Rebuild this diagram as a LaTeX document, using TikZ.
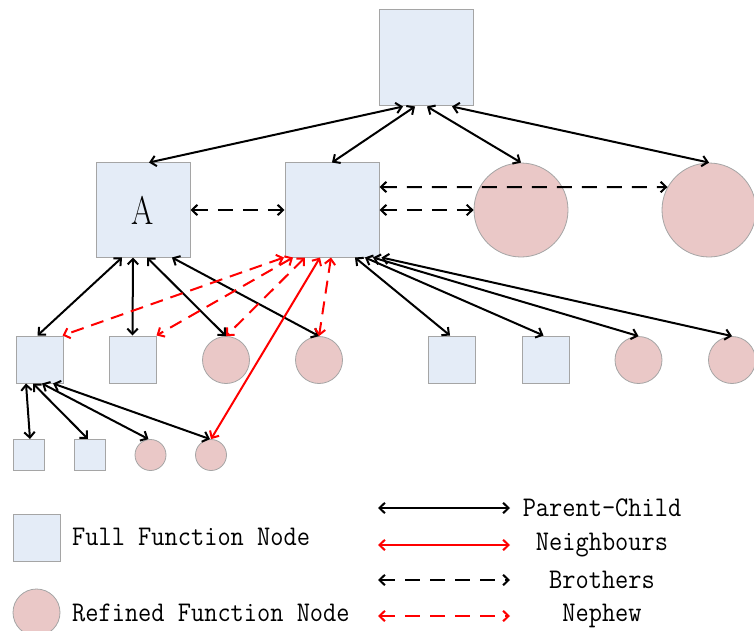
\documentclass[tikz,border=0pt]{standalone}
\usepackage{fontspec}
\newfontfamily\lblfont[FakeStretch=0.9]{Latin Modern Mono}
\newfontfamily\bigfont[FakeStretch=0.8]{Latin Modern Roman}
\usetikzlibrary{arrows.meta}
\definecolor{boxfill}{RGB}{228,236,247}
\definecolor{circfill}{RGB}{234,200,199}
\definecolor{edgegray}{RGB}{165,165,165}
\begin{document}
\begin{tikzpicture}[x=1pt,y=-1pt,
  fullnode/.style={draw=edgegray,fill=boxfill,line width=1pt,inner sep=0pt,minimum size=#1},
  refnode/.style={circle,draw=edgegray,fill=circfill,line width=0.8pt,inner sep=0pt,minimum size=#1},
  tip/.style={{Straight Barb[length=5.5pt,width=10.5pt]}-{Straight Barb[length=5.5pt,width=10.5pt]}},
  parentchild/.style={tip,line width=2pt,black},
  neighbour/.style={tip,line width=2pt,red},
  brother/.style={tip,line width=2pt,black,dash pattern=on 15pt off 10pt},
  nephew/.style={tip,line width=2pt,red,dash pattern=on 13pt off 8pt},
  lbl/.style={inner sep=0pt,font=\lblfont\fontsize{28.5}{29}\selectfont}
]
\useasboundingbox (0,0) rectangle (754,631);
% tree nodes
\node[fullnode=94pt,minimum height=96pt] (T) at (426,58) {};
\node[fullnode=94pt,font=\bigfont\fontsize{40}{40}\selectfont] (A) at (143,210) {A};
\node[fullnode=94pt] (B) at (332,210) {};
\node[refnode=94pt] (C) at (521,210) {};
\node[refnode=94pt] (D) at (709,210) {};
\node[fullnode=47pt] (s1) at (39.5,359.5) {};
\node[fullnode=47pt] (s2) at (132.5,359.5) {};
\node[refnode=47pt] (c1) at (226,360) {};
\node[refnode=47pt] (c2) at (319,360) {};
\node[fullnode=47pt] (s3) at (452,359.5) {};
\node[fullnode=47pt] (s4) at (545.5,359.5) {};
\node[refnode=47pt] (c3) at (638.5,360) {};
\node[refnode=47pt] (c4) at (732,360) {};
\node[fullnode=31pt] (s5) at (28.5,455) {};
\node[fullnode=31pt] (s6) at (89.5,455) {};
\node[refnode=31pt] (c5) at (150.5,455) {};
\node[refnode=31pt] (c6) at (211,455) {};
% top level
\draw[parentchild] ([xshift=-23pt]T.south) -- ([xshift=6pt]A.north);
\draw[parentchild] ([xshift=-11pt]T.south) -- (B.north);
\draw[parentchild] ([xshift=1pt]T.south) -- (C.north);
\draw[parentchild] ([xshift=26pt]T.south) -- (D.north);
% brothers
\draw[brother] (A.east) -- (B.west);
\draw[brother] ([yshift=23pt]B.east) -- (D.151);
\draw[brother] (B.east) -- (C.west);
% A children
\draw[parentchild] ([xshift=-21pt]A.south) -- ([xshift=-2pt]s1.north);
\draw[parentchild] ([xshift=-10pt]A.south) -- (s2.north);
\draw[parentchild] ([xshift=4pt]A.south) -- (c1.north);
\draw[parentchild] ([xshift=29pt]A.south) -- (c2.north);
% B children
\draw[parentchild] ([xshift=23pt]B.south) -- ([xshift=-2pt]s3.north);
\draw[parentchild] ([xshift=33pt]B.south) -- ([xshift=-2pt]s4.north);
\draw[parentchild] ([xshift=41pt]B.south) -- (c3.north);
\draw[parentchild] ([xshift=2pt]B.south east) -- (c4.north);
% s1 children
\draw[parentchild] ([xshift=-13.5pt]s1.south) -- ([xshift=1.5pt]s5.north);
\draw[parentchild] ([xshift=-6.5pt]s1.south) -- ([xshift=-1.5pt]s6.north);
\draw[parentchild] ([xshift=2.5pt]s1.south) -- ([xshift=-2pt]c5.north);
\draw[parentchild] ([xshift=13.5pt]s1.south) -- ([xshift=-1pt]c6.north);
% nephews
\draw[nephew] ([xshift=-48pt]B.south) -- ([xshift=-1pt]s1.north east);
\draw[nephew] ([xshift=-39pt]B.south) -- (s2.north east);
\draw[nephew] ([xshift=-27pt]B.south) -- (c1.north);
\draw[nephew] ([xshift=-1pt]B.south) -- (c2.north);
% neighbour
\draw[neighbour] ([xshift=-12pt]B.south) -- (c6.north);
% legend
\node[fullnode=47pt] (lsq) at (36.5,537.5) {};
\node[refnode=47pt] (lci) at (36.5,612.5) {};
\node[lbl,anchor=west] (lfull) at (72,537) {Full Function Node};
\node[lbl,anchor=west] (lref) at (72,613) {Refined Function Node};
\coordinate (l1a) at (378,508); \coordinate (l1b) at (510,508);
\coordinate (l2a) at (378,545); \coordinate (l2b) at (510,545);
\coordinate (l3a) at (378,580); \coordinate (l3b) at (510,580);
\coordinate (l4a) at (378,616); \coordinate (l4b) at (510,616);
\draw[parentchild] (l1a) -- (l1b);
\draw[neighbour] (l2a) -- (l2b);
\draw[brother,dash pattern=on 15pt off 10pt] (l3a) -- (l3b);
\draw[nephew,dash pattern=on 15pt off 10pt] (l4a) -- (l4b);
\node[lbl] (tpc) at (602,508) {Parent-Child};
\node[lbl] (tnb) at (602,545) {Neighbours};
\node[lbl] (tbr) at (602,580) {Brothers};
\node[lbl] (tne) at (602,616) {Nephew};
\end{tikzpicture}
\end{document}
